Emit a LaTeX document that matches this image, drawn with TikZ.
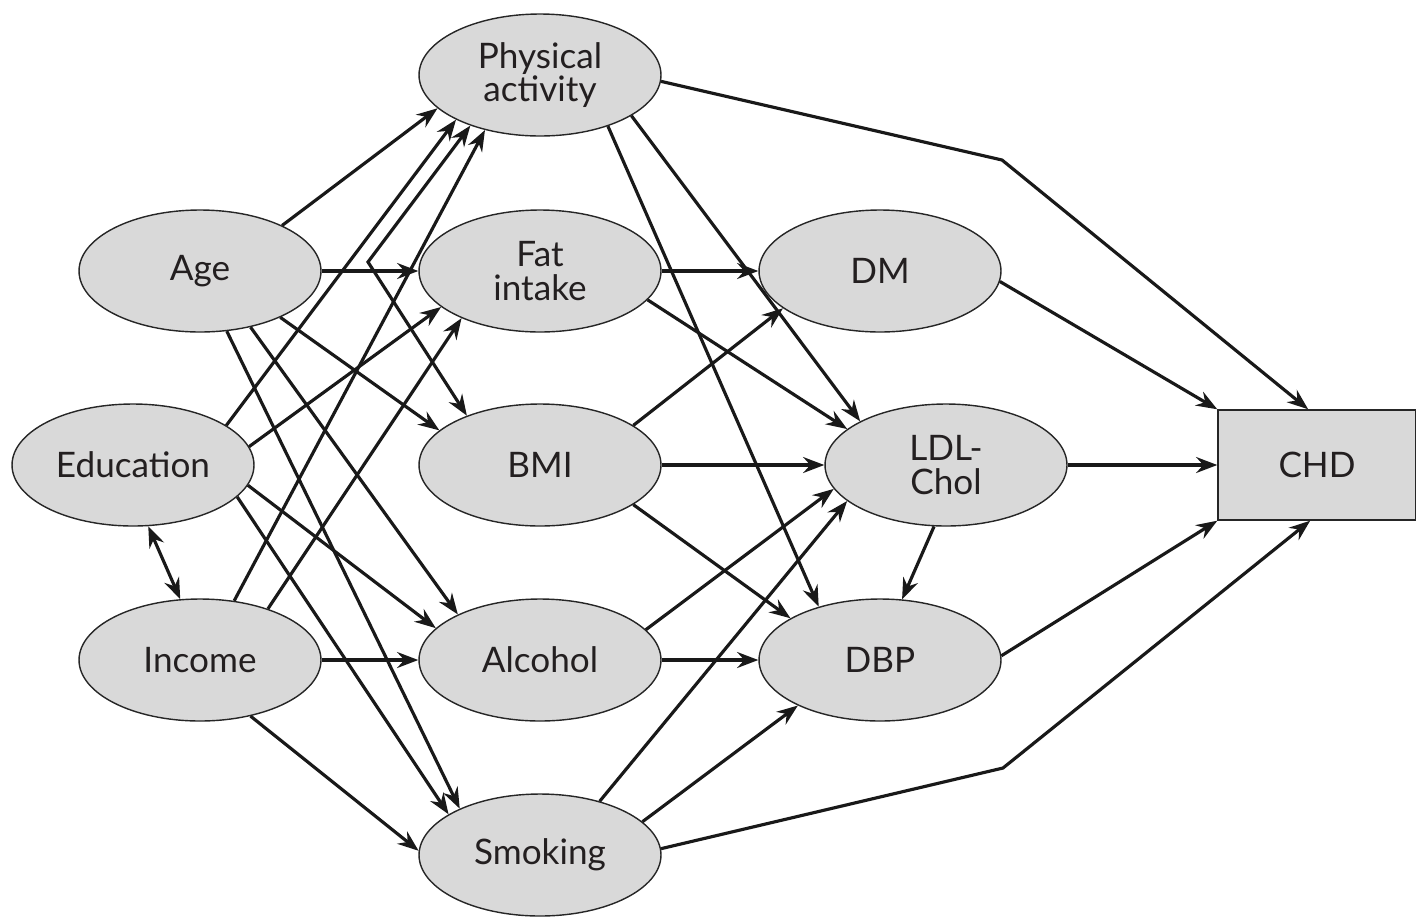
\documentclass[tikz,border=0pt]{standalone}
\usepackage{fontspec}
\setmainfont{Lato}
\usetikzlibrary{shapes.geometric,arrows.meta,calc}
\definecolor{nodegray}{HTML}{D9D9D9}
\definecolor{txt}{HTML}{231F20}
\begin{document}
\begin{tikzpicture}[x=0.02cm,y=-0.02cm,
  vnode/.style={ellipse, draw=black!85, line width=0.8pt, fill=nodegray,
    minimum width=4.84cm, minimum height=2.44cm, inner sep=0pt, align=center,
    font=\fontsize{20}{19}\selectfont, text=txt},
  chdbox/.style={rectangle, draw=black!85, line width=0.8pt, fill=nodegray,
    minimum width=3.96cm, minimum height=2.2cm, inner sep=0pt,
    font=\fontsize{20}{19}\selectfont, text=txt},
  arr/.style={line width=1.8pt, black!90, -{Stealth[length=12pt,width=9pt,inset=4pt]}},
  harr/.style={arr, line width=2.3pt},
  dbl/.style={line width=1.8pt, black!90, {Stealth[length=12pt,width=9pt,inset=4pt]}-{Stealth[length=12pt,width=9pt,inset=4pt]}}
]
\useasboundingbox (0,0) rectangle (1416,921);

\node[vnode] (PA) at (540,75) {Physical\\activity};
\node[vnode] (Fat) at (540,271) {Fat\\intake};
\node[vnode] (BMI) at (540,465) {BMI};
\node[vnode] (Alc) at (540,660) {Alcohol};
\node[vnode] (Smk) at (540,855) {Smoking};
\node[vnode] (Age) at (200,271) {Age};
\node[vnode] (Edu) at (133,465) {Education};
\node[vnode] (Inc) at (200,660) {Income};
\node[vnode] (DM) at (880,271) {DM};
\node[vnode] (LDL) at (946,465) {LDL-\\Chol};
\node[vnode] (DBP) at (880,660) {DBP};
\node[chdbox] (CHD) at (1317,465) {CHD};

\coordinate (k1) at (368,262);
\coordinate (k2) at (1002,160);
\coordinate (k3) at (1003,768);

% exogenous -> lifestyle
\draw[arr] (Age.29) -- (PA.198);
\draw[harr] (Age.0) -- (Fat.180);
\draw[arr] (Age.330) -- (BMI.161);
\draw[arr] (Age.312) -- (Alc.151);
\draw[arr] (Age.294) -- (Smk.150);
\draw[arr] (Edu.23) -- (PA.208);
\draw[arr] (Edu.9) -- (Fat.200);
\draw[arr] (Edu.350) -- (Alc.163);
\draw[arr] (Edu.343) -- (Smk.156);
\draw[dbl] (Edu.284) -- (Inc.108);
\draw[arr] (Inc.60) -- (PA.225);
\draw[arr] (Inc.37) -- (Fat.211);
\draw[harr] (Inc.0) -- (Alc.180);
\draw[arr] (Inc.312) -- (Smk.178);
\draw[dbl] (PA.216) -- (k1) -- (BMI.146);

% lifestyle -> clinical
\draw[arr] (PA.357) -- (k2) -- (CHD.99);
\draw[arr] (PA.336) -- (LDL.153);
\draw[arr] (PA.323) -- (DBP.139);
\draw[harr] (Fat.0) -- (DM.180);
\draw[arr] (Fat.345) -- (LDL.160);
\draw[arr] (BMI.23) -- (DM.201);
\draw[harr] (BMI.0) -- (LDL.180);
\draw[arr] (BMI.337) -- (DBP.155);
\draw[harr] (Alc.0) -- (DBP.180);
\draw[arr] (Alc.16) -- (LDL.192);
\draw[arr] (Smk.42) -- (LDL.200);
\draw[arr] (Smk.18) -- (DBP.209);
\draw[arr] (Smk.3) -- (k3) -- (CHD.263);

% clinical -> CHD
\draw[arr] (DM.355) -- (CHD.north west);
\draw[harr] (LDL.0) -- (CHD.west);
\draw[arr] (LDL.259) -- (DBP.70);
\draw[arr] (DBP.2) -- (CHD.south west);
\end{tikzpicture}
\end{document}
